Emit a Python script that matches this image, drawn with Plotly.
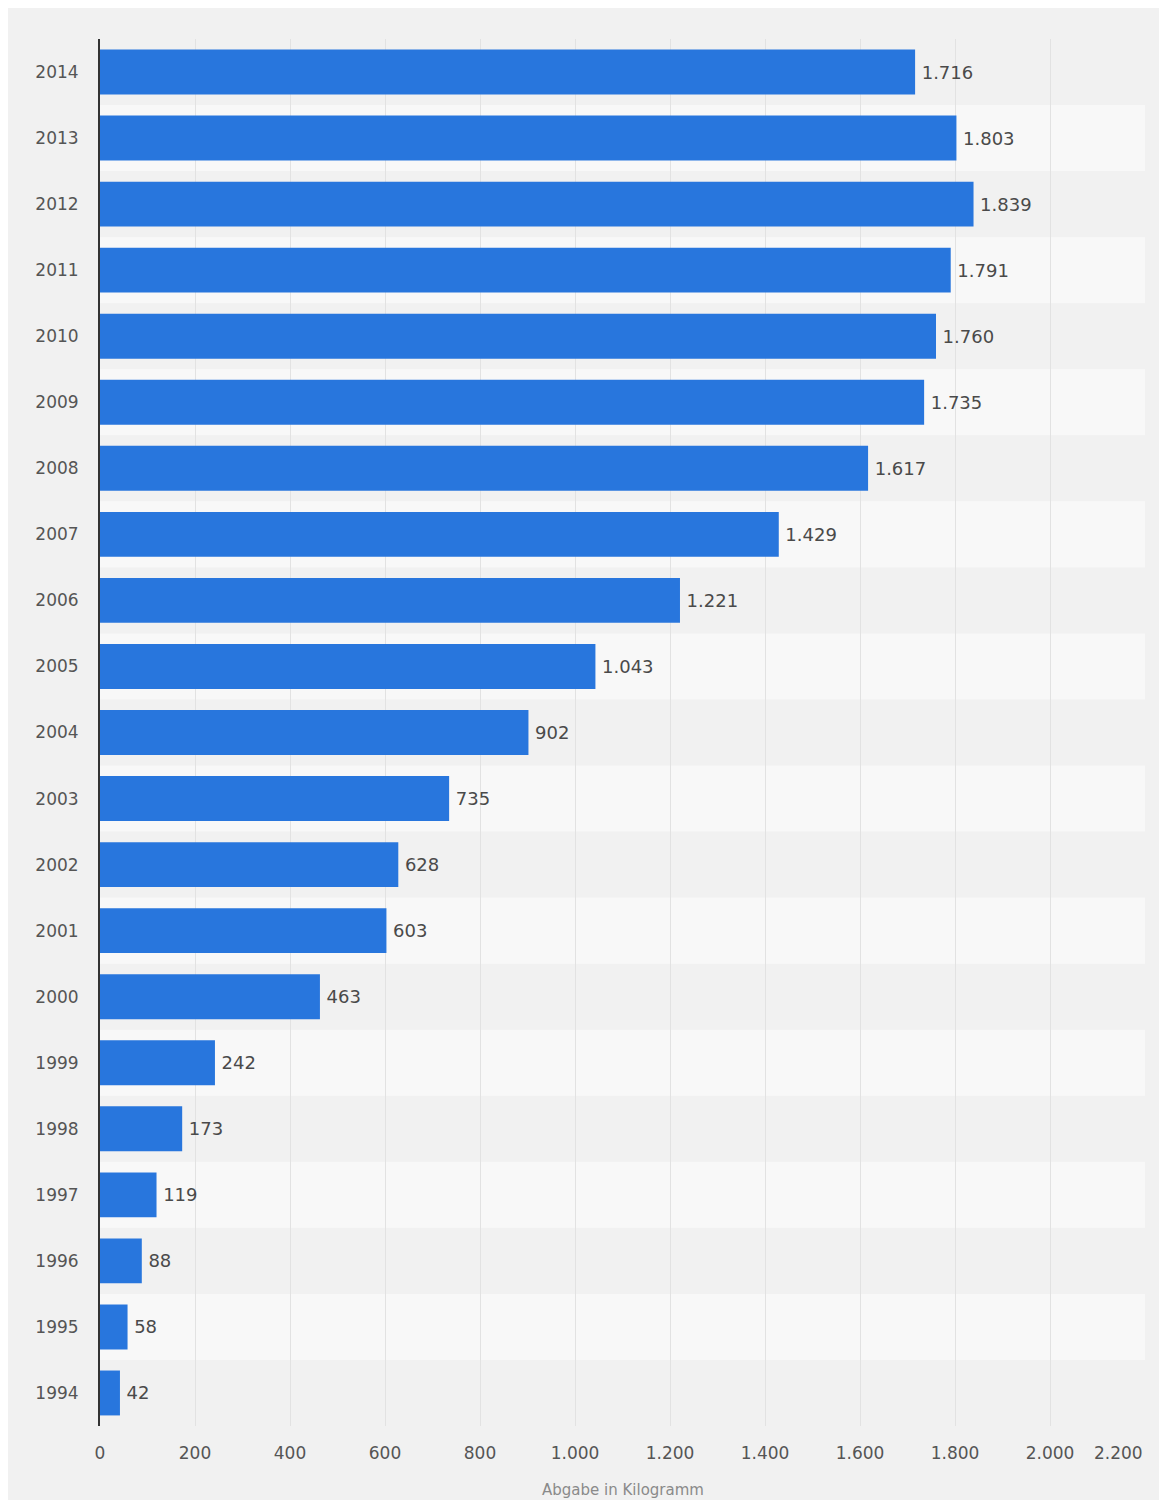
import plotly.graph_objects as go

years = ["1994", "1995", "1996", "1997", "1998", "1999", "2000", "2001", "2002", "2003", "2004",
         "2005", "2006", "2007", "2008", "2009", "2010", "2011", "2012", "2013", "2014"]
values = [42, 58, 88, 119, 173, 242, 463, 603, 628, 735, 902,
          1043, 1221, 1429, 1617, 1735, 1760, 1791, 1839, 1803, 1716]
x_ticks = [0, 200, 400, 600, 800, 1000, 1200, 1400, 1600, 1800, 2000, 2200]
x_tick_labels = ["0", "200", "400", "600", "800", "1.000", "1.200", "1.400", "1.600", "1.800", "2.000", "2.200"]
x_title = "Abgabe in Kilogramm"

BAR = "#2876dd"
PAPER = "#f1f1f1"
BAND = "#f8f8f8"
FONT = "DejaVu Sans"

fig = go.Figure()
fig.add_trace(go.Bar(
    x=values, y=years, orientation="h",
    marker=dict(color=BAR, line=dict(width=0)),
    text=values, texttemplate="\u2009%{x:,}", textposition="outside",
    textfont=dict(family=FONT, size=18, color="#4a4a4a"),
    cliponaxis=False, hoverinfo="skip",
))

shapes = []
for i, _ in enumerate(years):
    if i % 2 == 1:
        shapes.append(dict(type="rect", xref="x", yref="y", x0=x_ticks[0], x1=x_ticks[-1],
                           y0=i - 0.5, y1=i + 0.5, fillcolor=BAND, line=dict(width=0), layer="below"))

fig.update_layout(
    width=1151, height=1492,
    margin=dict(l=92, r=14, t=31, b=74, autoexpand=False),
    paper_bgcolor=PAPER, plot_bgcolor=PAPER,
    separators=",.",
    bargap=0.32,
    showlegend=False,
    shapes=shapes,
    font=dict(family=FONT, size=17, color="#555555"),
    annotations=[
        dict(x=x_ticks[-1], y=0, xref="x", yref="paper", text=x_tick_labels[-1],
             showarrow=False, xanchor="right", yanchor="top", yshift=-15,
             font=dict(family=FONT, size=17, color="#555555")),
        dict(x=0.5, y=0, xref="paper", yref="paper", text=x_title,
             showarrow=False, xanchor="center", yanchor="top", yshift=-53,
             font=dict(family=FONT, size=15, color="#8a8a8a")),
    ],
)
fig.update_xaxes(
    range=[x_ticks[0], x_ticks[-1]],
    tickvals=x_ticks,
    ticktext=x_tick_labels[:-1] + [""],
    showgrid=True, gridcolor="#e2e2e2", gridwidth=1,
    zeroline=False, showline=False,
    ticks="outside", ticklen=12, tickcolor="rgba(0,0,0,0)",
    automargin=False,
)
fig.update_yaxes(
    categoryorder="array", categoryarray=years,
    range=[-0.5, len(years) - 0.5],
    showgrid=False, zeroline=False,
    showline=True, linecolor="#333333", linewidth=2,
    ticks="", ticklabelstandoff=16, automargin=False,
)
fig.write_html("out.html")
